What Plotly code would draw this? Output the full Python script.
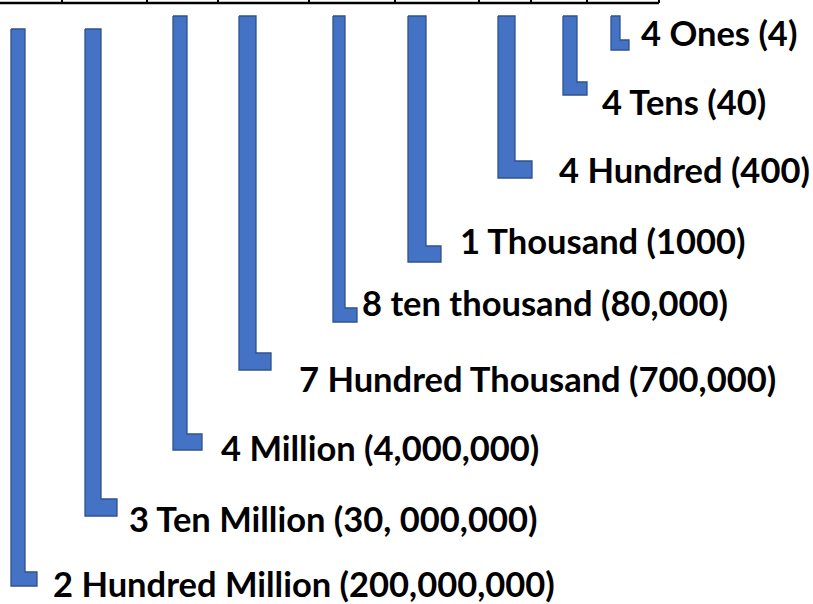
import plotly.graph_objects as go

# ---- data ----
places = ["Ones", "Tens", "Hundreds", "Thousands", "Ten Thousands",
          "Hundred Thousands", "Millions", "Ten Millions", "Hundred Millions"]
digits = [4, 4, 4, 1, 8, 7, 4, 3, 2]
labels = ["4 Ones (4)", "4 Tens (40)", "4 Hundred (400)", "1 Thousand (1000)",
          "8 ten thousand (80,000)", "7 Hundred Thousand (700,000)",
          "4 Million (4,000,000)", "3 Ten Million (30, 000,000)",
          "2 Hundred Million (200,000,000)"]

# ---- layout geometry (axis units = pixels of the 813x604 canvas) ----
stem_left = [611, 563, 498, 408, 333, 239, 173, 85, 11]
stem_right = [620, 577, 515, 426, 345, 256, 187, 101, 25]
stem_top = [16, 16, 16, 16, 16, 16, 16, 29, 29]
stem_bottom = [50, 95, 178, 262, 322, 370, 450, 516, 586]
foot_right = [629, 587, 532, 441, 357, 271, 202, 117, 37]
foot_height = [10, 13, 17, 16, 14, 17, 16, 17, 14]
label_left = [639, 600, 557, 458, 360, 297, 219, 127, 51]
label_y = [32, 101, 169, 240, 302, 378, 447, 518, 583]
divider_x = [62, 147, 218, 309, 395, 479, 531, 587, 659]
table_line_y = 3

fig = go.Figure()

for i in range(len(places)):
    x0, x1, xr = stem_left[i], stem_right[i], foot_right[i]
    yt, yb = stem_top[i], stem_bottom[i]
    yf = yb - foot_height[i]
    fig.add_trace(go.Scatter(
        x=[x0, x1, x1, xr, xr, x0, x0],
        y=[yt, yt, yf, yf, yb, yb, yt],
        mode="lines", fill="toself",
        fillcolor="#4472C4",
        line=dict(color="#2F528F", width=1.3),
        hoverinfo="text", text=f"{places[i]}: {digits[i]}",
        showlegend=False,
    ))
    fig.add_annotation(
        x=label_left[i], y=label_y[i], text=labels[i],
        xanchor="left", yanchor="middle", showarrow=False,
        font=dict(family="Lato", size=34.5, color="#000000", weight="bold"),
    )

# table bottom border and column dividers
fig.add_shape(type="line", x0=0, x1=divider_x[-1], y0=table_line_y, y1=table_line_y,
              line=dict(color="#000000", width=2.5))
for dx in divider_x:
    fig.add_shape(type="line", x0=dx, x1=dx, y0=-5, y1=table_line_y,
                  line=dict(color="#000000", width=2))

fig.update_layout(
    width=813, height=604,
    margin=dict(l=0, r=0, t=0, b=0),
    paper_bgcolor="white", plot_bgcolor="white",
    xaxis=dict(range=[0, 813], visible=False, fixedrange=True),
    yaxis=dict(range=[604, 0], visible=False, fixedrange=True),
)

fig.write_html("out.html", config={"displayModeBar": False},
               post_script="document.body.style.margin='0';document.body.style.overflow='hidden';")
